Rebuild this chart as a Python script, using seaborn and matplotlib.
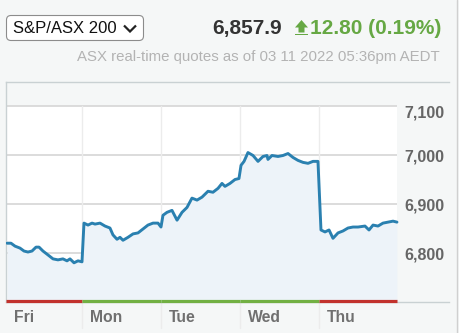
import matplotlib
matplotlib.use("Agg")
import matplotlib.pyplot as plt
import matplotlib.transforms as mtransforms
from matplotlib.patches import FancyBboxPatch, Polygon
from matplotlib.lines import Line2D
import seaborn as sns
import pandas as pd

# ---------------- data ----------------
index_name = "S&P/ASX 200"
last_price = "6,857.9"
change_text = "12.80 (0.19%)"
subtitle = "ASX real-time quotes as of 03 11 2022 05:36pm AEDT"

day_labels = ["Fri", "Mon", "Tue", "Wed", "Thu"]
day_direction = ["down", "up", "up", "up", "down"]

y_ticks = [6800, 6900, 7000, 7100]
y_tick_labels = ["6,800", "6,900", "7,000", "7,100"]

# time in trading days (Fri = 0..1, Mon = 1..2, ...)
time_days = [
    0.051, 0.101, 0.152, 0.215, 0.266, 0.316, 0.367, 0.418, 0.456, 0.506,
    0.570, 0.633, 0.696, 0.759, 0.810, 0.848, 0.899, 0.949, 1.000,
    1.025, 1.076, 1.127, 1.165, 1.228, 1.291, 1.354, 1.392, 1.443, 1.481,
    1.519, 1.582, 1.646, 1.709, 1.772, 1.835, 1.899, 1.962, 2.000,
    2.025, 2.076, 2.139, 2.203, 2.266, 2.329, 2.392, 2.456, 2.519, 2.595,
    2.658, 2.722, 2.772, 2.810, 2.873, 2.937, 2.987,
    3.013, 3.051, 3.101, 3.165, 3.228, 3.291, 3.342, 3.354, 3.405, 3.481,
    3.544, 3.608, 3.671, 3.734, 3.797, 3.861, 3.924, 3.987,
    4.025, 4.076, 4.127, 4.177, 4.241, 4.304, 4.367, 4.430, 4.494, 4.582,
    4.633, 4.684, 4.747, 4.810, 4.873, 4.937, 4.987,
]
price = [
    6820, 6820, 6814, 6810, 6804, 6802, 6804, 6812, 6812, 6804,
    6796, 6788, 6786, 6788, 6784, 6788, 6780, 6784, 6782,
    6861, 6857, 6861, 6859, 6861, 6855, 6851, 6837, 6828, 6832,
    6826, 6832, 6839, 6841, 6849, 6857, 6861, 6861, 6853,
    6877, 6883, 6887, 6867, 6883, 6893, 6912, 6908, 6914, 6926,
    6924, 6932, 6942, 6936, 6942, 6950, 6952,
    6979, 6987, 7005, 6999, 6987, 6997, 6999, 6991, 6999, 6997,
    6999, 7003, 6995, 6989, 6985, 6983, 6987, 6987,
    6847, 6843, 6847, 6830, 6841, 6845, 6851, 6853, 6853, 6855,
    6847, 6857, 6855, 6861, 6863, 6865, 6863,
]

df = pd.DataFrame({"time": time_days, "price": price})

# ---------------- style ----------------
BG = "#f5f7f7"
LINE = "#2a80b0"
FILL = "#edf3f9"
GRID = "#d9d9d9"
VGRID = "#ececec"
SPINE = "#c9d1d3"
RED = "#c2322d"
GREEN = "#72b043"
TXT = "#666666"
UPGREEN = "#66a844"

sns.set_theme(style="white")
plt.rcParams["font.family"] = ["Liberation Sans", "DejaVu Sans"]

W, H = 460, 333
fig = plt.figure(figsize=(W / 100, H / 100), dpi=100, facecolor=BG)

def P(x, y):
    return (x / 100, (H - y) / 100)

# axes: x 6..449 px, y 82..302 px
ax = fig.add_axes([6 / W, 1 - 302 / H, (449 - 6) / W, (302 - 82) / H])
ax.set_facecolor(BG)

x_left = (6 - 3) / 79
x_plot_end = (397 - 3) / 79
x_right = (449 - 3) / 79
y_min, y_max = 6700, 7149
ax.set_xlim(x_left, x_right)
ax.set_ylim(y_min, y_max)

# white plot region
ax.fill_between([x_left, x_plot_end], y_min, y_ticks[-1], color="white", lw=0, zorder=0)

# horizontal gridlines
for yv in y_ticks:
    ax.plot([x_left, x_plot_end], [yv, yv], color=GRID, lw=1.3, zorder=1, solid_capstyle="butt")

# vertical day separators (extend below the axes)
blend = mtransforms.blended_transform_factory(ax.transData, ax.transAxes)
top_frac = (y_ticks[-1] - y_min) / (y_max - y_min)
for d in range(1, len(day_labels)):
    ax.plot([d, d], [-0.118, top_frac], color=VGRID, lw=1.0, transform=blend,
            clip_on=False, zorder=1)

# area + line
ax.fill_between(df["time"], df["price"], y_min, color=FILL, lw=0, zorder=2)
sns.lineplot(data=df, x="time", y="price", ax=ax, color=LINE, lw=2.1, zorder=3,
             estimator=None, sort=False)

# up/down bar along the bottom
for i, dirn in enumerate(day_direction):
    start = x_left if i == 0 else i
    end = x_plot_end if i == len(day_labels) - 1 else i + 1
    ax.plot([start, end], [0.006, 0.006], transform=blend, clip_on=False,
            color=GREEN if dirn == "up" else RED, lw=2.3, solid_capstyle="butt", zorder=5)

# spines
for side in ["top", "left", "bottom"]:
    ax.spines[side].set_color(SPINE)
    ax.spines[side].set_linewidth(1.0)
ax.spines["right"].set_visible(False)

# y ticks on the right, inside
ax.yaxis.tick_right()
ax.set_yticks(y_ticks)
ax.set_yticklabels(y_tick_labels, fontsize=11.5, fontweight="bold", color=TXT)
ax.tick_params(axis="y", length=0, pad=-3)
ylabs = ax.get_yticklabels()
for lab in ylabs:
    lab.set_horizontalalignment("right")
# the top label sits a little below its gridline
ylabs[-1].set_transform(ylabs[-1].get_transform() +
                        mtransforms.ScaledTranslation(0, -5 / 100, fig.dpi_scale_trans))

# x ticks: day labels, left aligned after the separator
ax.set_xticks([x_left, 1, 2, 3, 4])
ax.set_xticklabels(day_labels, fontsize=11.3, fontweight="bold", color="#707070")
ax.tick_params(axis="x", length=0, pad=6)
offset = mtransforms.ScaledTranslation(8 / 100, 0, fig.dpi_scale_trans)
for lab in ax.get_xticklabels():
    lab.set_horizontalalignment("left")
    lab.set_transform(lab.get_transform() + offset)

ax.set_xlabel("")
ax.set_ylabel("")
ax.grid(False)

# ---------------- header ----------------
dtr = fig.dpi_scale_trans
box = FancyBboxPatch(P(6.5, 40.5), 137 / 100, 25 / 100,
                     boxstyle="round,pad=0,rounding_size=0.045",
                     transform=dtr, facecolor="white", edgecolor="#8c8c8c", lw=0.8)
fig.patches.append(box)
fig.text(*P(13, 28.5), index_name, transform=dtr, fontsize=12, color="#111111",
         ha="left", va="center")
cx = [124, 130, 136]
cy = [25.5, 31.5, 25.5]
fig.lines.append(Line2D([c / 100 for c in cx], [(H - c) / 100 for c in cy],
                        transform=dtr, color="#222222", lw=1.6,
                        solid_joinstyle="miter", solid_capstyle="butt"))

fig.text(*P(212, 28.5), last_price, transform=dtr, fontsize=15, fontweight="bold",
         color="#333333", ha="left", va="center")

arrow_pts = [P(295, 27.5), P(301.5, 20), P(308, 27.5), P(304.5, 27.5), P(304.5, 32.5),
             P(298.5, 32.5), P(298.5, 27.5)]
fig.patches.append(Polygon(arrow_pts, closed=True, transform=dtr, color=UPGREEN, lw=0))
fig.patches.append(Polygon([P(295, 33.5), P(308, 33.5), P(308, 35.2), P(295, 35.2)],
                           closed=True, transform=dtr, color=UPGREEN, lw=0))

fig.text(*P(310, 28.5), change_text, transform=dtr, fontsize=15, fontweight="bold",
         color=UPGREEN, ha="left", va="center")

fig.text(*P(440, 57), subtitle, transform=dtr, fontsize=10.85, color="#b3b3b3",
         ha="right", va="center")

# right page border
fig.lines.append(Line2D([457 / 100, 457 / 100], [0, H / 100], transform=dtr,
                        color="#d0d0d0", lw=1.0))

fig.savefig("out.png", dpi=100, facecolor=BG)
